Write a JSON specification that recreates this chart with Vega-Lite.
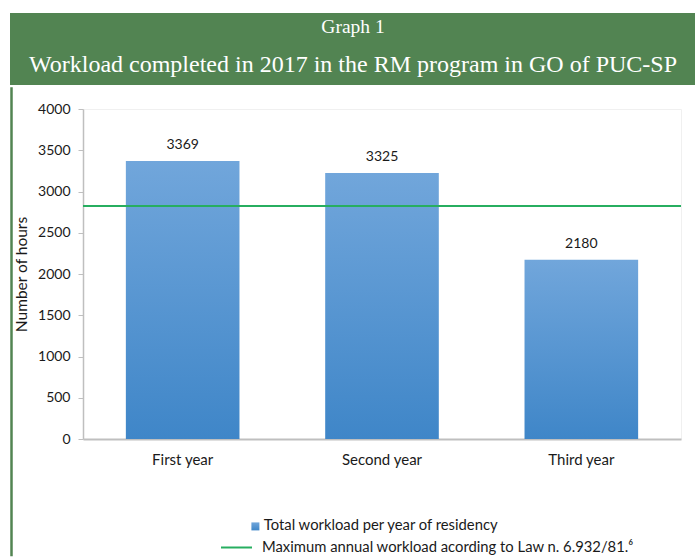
{
  "$schema": "https://vega.github.io/schema/vega-lite/v6.json",
  "padding": {"left": 9, "top": 13, "right": 0, "bottom": 0},
  "background": "white",
  "spacing": 0,
  "config": {
    "view": {"stroke": null},
    "font": "Lato",
    "axis": {"labelFont": "Lato", "titleFont": "Lato", "labelColor": "#1a1a1a", "titleColor": "#1a1a1a"},
    "legend": {"labelFont": "Lato", "labelColor": "#1a1a1a"}
  },
  "vconcat": [
    {
      "width": 598,
      "height": 72,
      "layer": [
        {
          "data": {"values": [{"kind": "header"}]},
          "mark": {"type": "rect", "color": "#528452", "clip": false},
          "encoding": {
            "x": {"datum": -73, "type": "quantitative", "scale": {"domain": [0, 598], "nice": false, "zero": false}, "axis": null},
            "x2": {"datum": 613}
          }
        },
        {
          "data": {"values": [
            {"line": "a", "text": "Graph 1"},
            {"line": "b", "text": "Workload completed in 2017 in the RM program in GO of PUC-SP"}
          ]},
          "mark": {"type": "text", "color": "white", "font": "Liberation Serif", "baseline": "middle", "align": "center"},
          "encoding": {
            "x": {"datum": 270, "type": "quantitative"},
            "y": {"field": "line", "type": "nominal", "axis": null, "scale": {"domain": ["a", "b"], "range": [14, 52], "padding": 0}},
            "text": {"field": "text"},
            "size": {"field": "line", "type": "ordinal", "legend": null, "scale": {"domain": ["a", "b"], "range": [19.5, 24]}}
          }
        }
      ]
    },
    {
      "width": 598,
      "height": 330,
      "view": {"stroke": "#F0F0F0"},
      "layer": [
        {
          "data": {"values": [
            {"year": "First year", "hours": 3369, "label": "3369"},
            {"year": "Second year", "hours": 3225, "label": "3325"},
            {"year": "Third year", "hours": 2172, "label": "2180"}
          ]},
          "layer": [
            {
              "mark": {"type": "bar", "fill": {"gradient": "linear", "x1": 0, "y1": 0, "x2": 0, "y2": 1, "stops": [{"offset": 0, "color": "#71A6DB"}, {"offset": 1, "color": "#3F86C8"}]}},
              "encoding": {
                "x": {"field": "year", "type": "nominal", "sort": null, "title": null,
                  "scale": {"paddingInner": 0.43, "paddingOuter": 0.215},
                  "axis": {"labelAngle": 0, "labelFontSize": 15, "ticks": false, "tickSize": 0, "labelPadding": 13, "domainColor": "#BFBFBF", "domainWidth": 2}},
                "y": {"field": "hours", "type": "quantitative", "title": "Number of hours",
                  "scale": {"domain": [0, 4000], "nice": false},
                  "axis": {"values": [0, 500, 1000, 1500, 2000, 2500, 3000, 3500, 4000], "format": "d", "grid": false, "labelFontSize": 14, "titleFontSize": 15.5, "titleFontWeight": "normal", "titlePadding": 8, "tickColor": "#BFBFBF", "tickSize": 5, "labelPadding": 8, "domainColor": "#BFBFBF", "domainWidth": 1.5}},
                "opacity": {"datum": "Total workload per year of residency", "type": "ordinal",
                  "scale": {"range": [1]},
                  "legend": {"title": null, "orient": "none", "legendX": 165, "legendY": 506, "symbolType": "square", "symbolSize": 64, "labelFontSize": 14.8, "labelOffset": 1, "labelLimit": 500, "padding": 0,
                    "encode": {"symbols": {"update": {"fill": {"value": "#5B9BD5"}, "stroke": {"value": "#5B9BD5"}, "strokeWidth": {"value": 0}, "opacity": {"value": 1}}}}}}
              }
            },
            {
              "mark": {"type": "text", "baseline": "bottom", "dy": -9, "fontSize": 14, "color": "#1a1a1a"},
              "encoding": {
                "x": {"field": "year", "type": "nominal", "sort": null},
                "y": {"field": "hours", "type": "quantitative"},
                "text": {"field": "label"}
              }
            }
          ]
        },
        {
          "data": {"values": [{"kind": "max"}]},
          "mark": {"type": "rule", "strokeWidth": 2},
          "encoding": {
            "y": {"datum": 2825, "type": "quantitative"},
            "color": {"datum": "Maximum annual workload acording to Law n. 6.932/81.⁶", "type": "nominal",
              "scale": {"range": ["#27AE60"]},
              "legend": {"title": null, "orient": "none", "legendX": 137, "legendY": 518, "symbolType": "stroke", "symbolSize": 961, "symbolStrokeWidth": 2, "labelFontSize": 14.8, "labelOffset": 9, "labelLimit": 500, "padding": 0}}
          }
        },
        {
          "data": {"values": [{"kind": "frame"}]},
          "mark": {"type": "rule", "strokeWidth": 2.5, "color": "#528452", "clip": false},
          "encoding": {
            "x": {"datum": -71.5, "type": "quantitative", "scale": {"domain": [0, 598], "nice": false, "zero": false}, "axis": null},
            "y": {"datum": 4263, "type": "quantitative"},
            "y2": {"datum": -1420}
          }
        }
      ],
      "resolve": {"scale": {"x": "independent"}}
    }
  ]
}
